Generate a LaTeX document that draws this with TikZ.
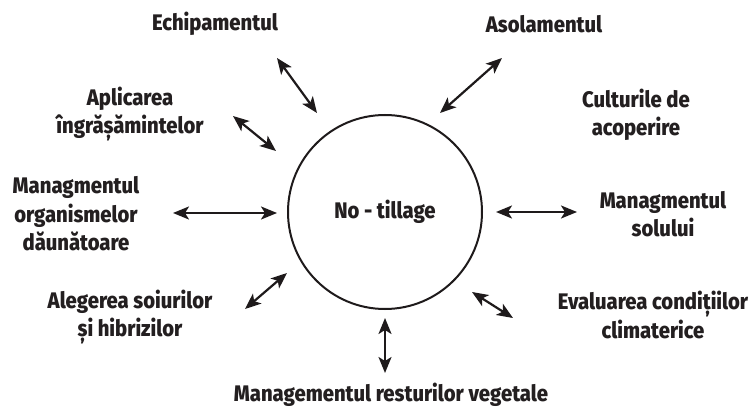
\documentclass[tikz,border=0pt]{standalone}
\usepackage{fontspec}
\setmainfont{Fira Sans}[FakeStretch=0.9, BoldFont={Fira Sans ExtraBold}]
\usetikzlibrary{arrows.meta}
\newlength{\linkwidth}
\newlength{\hubsize}
\setlength{\linkwidth}{2.2pt}
\setlength{\hubsize}{194pt}
\definecolor{labelcolor}{RGB}{35,31,32}
\definecolor{linecolor}{RGB}{30,26,27}
\tikzstyle{factor} = [font=\bfseries\fontsize{22.5}{28.5}\selectfont, align=center, inner sep=0, text=labelcolor]
\tikzstyle{hub} = [circle, draw=linecolor, line width=2pt, minimum size=\hubsize, font=\bfseries\fontsize{22.5}{28.5}\selectfont, text=labelcolor]
\tikzstyle{link} = [{Stealth[length=16pt,width=13pt,inset=4pt]}-{Stealth[length=16pt,width=13pt,inset=4pt]}, line width=\linkwidth, draw=linecolor]

\begin{document}
\begin{tikzpicture}[x=1pt, y=-1pt]
		\useasboundingbox (0,0) rectangle (756,409);
		
		\node[hub] (notill) at (385,212) {No - tillage};
		
		% the factors round the hub
		\node[factor] (echip) at (215,24) {Echipamentul};
		\node[factor] (asol) at (544,24) {Asolamentul};
		\node[factor] (aplic) at (130,114) {Aplicarea\\îngrășămintelor};
		\node[factor] (cult) at (636,115) {Culturile de\\acoperire};
		\node[factor] (mgorg) at (76,214) {Managmentul\\organismelor\\dăunătoare};
		\node[factor] (mgsol) at (663,214) {Managmentul\\solului};
		\node[factor] (aleg) at (130,317) {Alegerea soiurilor\\și hibrizilor};
		\node[factor] (eval) at (653,315) {Evaluarea condițiilor\\climaterice};
		\node[factor] (rest) at (391,395) {Managementul resturilor vegetale};
		
		% arrow ends
		\coordinate (echipA) at (277,58);
		\coordinate (echipB) at (317,113);
		\coordinate (asolA) at (502,58);
		\coordinate (asolB) at (440,113);
		\coordinate (aplicA) at (233,116);
		\coordinate (aplicB) at (276,151);
		\coordinate (mgorgA) at (173,213);
		\coordinate (mgorgB) at (277,213);
		\coordinate (mgsolA) at (496,212);
		\coordinate (mgsolB) at (577,212);
		\coordinate (alegA) at (245,309);
		\coordinate (alegB) at (287,273);
		\coordinate (evalA) at (472,292);
		\coordinate (evalB) at (513,318);
		\coordinate (restA) at (385,318);
		\coordinate (restB) at (385,373);
		
		\draw[link] (echipA) -- (echipB);
		\draw[link] (asolA) -- (asolB);
		\draw[link] (aplicA) -- (aplicB);
		\draw[link] (mgorgA) -- (mgorgB);
		\draw[link] (mgsolA) -- (mgsolB);
		\draw[link] (alegA) -- (alegB);
		\draw[link] (evalA) -- (evalB);
		\draw[link] (restA) -- (restB);
		
	\end{tikzpicture}
\end{document}
